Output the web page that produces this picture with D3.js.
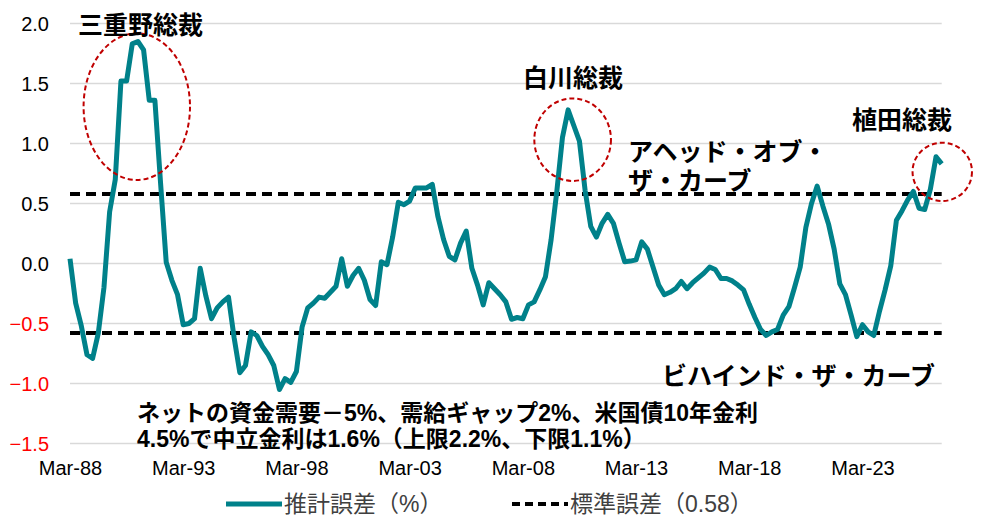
<!DOCTYPE html>
<html lang="ja">
<head>
<meta charset="utf-8">
<script src="https://cdn.jsdelivr.net/npm/d3@7"></script>
<style>
  body { margin: 0; background: #fff; }
  svg { display: block; font-family: "Liberation Sans", Arial, "Noto Sans CJK JP", sans-serif; }
</style>
</head>
<body>
<svg id="chart"></svg>
<script>
// Data (quarterly, first point Mar-88)
const tickLabels = ["Mar-88", "Mar-93", "Mar-98", "Mar-03", "Mar-08", "Mar-13", "Mar-18", "Mar-23"];
const tickEvery = 20; // quarters between labels

const estError = [
  0.04, -0.33, -0.52, -0.76, -0.79, -0.58, -0.20, 0.43, 0.70, 1.52,
  1.52, 1.83, 1.85, 1.78, 1.36, 1.36, 0.67, 0.01, -0.14, -0.26,
  -0.51, -0.50, -0.46, -0.04, -0.27, -0.46, -0.37, -0.32, -0.28, -0.62,
  -0.91, -0.85, -0.57, -0.60, -0.69, -0.76, -0.85, -1.05, -0.96, -0.99,
  -0.90, -0.53, -0.37, -0.33, -0.28, -0.29, -0.24, -0.19, 0.04, -0.19,
  -0.10, -0.04, -0.14, -0.30, -0.35, 0.015, -0.01, 0.22, 0.51, 0.49,
  0.52, 0.63, 0.63, 0.63, 0.66, 0.39, 0.20, 0.06, 0.03, 0.17,
  0.27, -0.04, -0.18, -0.345, -0.16, -0.21, -0.26, -0.32, -0.465, -0.45,
  -0.46, -0.345, -0.32, -0.22, -0.11, 0.20, 0.60, 1.05, 1.28, 1.15,
  1.02, 0.61, 0.31, 0.22, 0.335, 0.41, 0.335, 0.17, 0.015, 0.02,
  0.03, 0.18, 0.12, -0.03, -0.18, -0.26, -0.24, -0.21, -0.15, -0.21,
  -0.16, -0.12, -0.08, -0.03, -0.05, -0.125, -0.125, -0.145, -0.18, -0.22,
  -0.34, -0.45, -0.55, -0.60, -0.57, -0.55, -0.43, -0.36, -0.20, -0.03,
  0.30, 0.50, 0.645, 0.48, 0.33, 0.12, -0.17, -0.26, -0.43, -0.61,
  -0.51, -0.57, -0.60, -0.40, -0.22, -0.02, 0.36, 0.44, 0.53, 0.60,
  0.46, 0.45, 0.62, 0.89, 0.83
];
const stdError = 0.58;
const yTicks = [2.0, 1.5, 1.0, 0.5, 0.0, -0.5, -1.0, -1.5];
const seriesNames = ["推計誤差（%）", "標準誤差（0.58）"];

// Configuration
const width = 987;
const height = 523;
const plot = {left: 70, right: 941.7, top: 23.5, bottom: 443.5};
const teal = "#00818a";
const red = "#c00000";

const svg = d3.select("#chart")
    .attr("width", width)
    .attr("height", height);

svg.append("rect").attr("width", width).attr("height", height).attr("fill", "#fff");

const x = d3.scaleLinear()
    .domain([0, estError.length - 1])
    .range([plot.left, plot.right]);

const y = d3.scaleLinear()
    .domain([-1.5, 2.0])
    .range([plot.bottom, plot.top]);

// Gridlines
svg.append("g")
    .selectAll("line")
    .data(yTicks)
    .join("line")
    .attr("x1", plot.left)
    .attr("x2", plot.right)
    .attr("y1", d => y(d))
    .attr("y2", d => y(d))
    .attr("stroke", "#d9d9d9")
    .attr("stroke-width", 1.6);

// Y labels - negatives in red
const fmt = d3.format(".1f");
svg.append("g")
    .selectAll("text")
    .data(yTicks)
    .join("text")
    .attr("x", plot.left - 21)
    .attr("y", d => y(d))
    .attr("dy", "0.35em")
    .attr("text-anchor", "end")
    .attr("font-size", 20)
    .attr("font-family", "Liberation Sans, Arial, sans-serif")
    .attr("fill", d => d < 0 ? "#ff0000" : "#000000")
    .text(d => fmt(d));

// X axis
const xAxis = svg.append("g")
    .attr("transform", `translate(0,${plot.bottom})`)
    .call(d3.axisBottom(x)
        .tickValues(tickLabels.map((_, i) => i * tickEvery))
        .tickSize(0)
        .tickPadding(17)
        .tickFormat(d => tickLabels[d / tickEvery]));
xAxis.select(".domain").remove();
xAxis.selectAll("text")
    .attr("font-size", 20)
    .attr("font-family", "Liberation Sans, Arial, sans-serif")
    .style("fill", "#000");

// Standard error band (+/-)
svg.append("g")
    .selectAll("line")
    .data([stdError, -stdError])
    .join("line")
    .attr("x1", plot.left)
    .attr("x2", plot.right)
    .attr("y1", d => y(d))
    .attr("y2", d => y(d))
    .attr("stroke", "#000")
    .attr("stroke-width", 4)
    .attr("stroke-dasharray", "10,6");

// Estimate error line
const line = d3.line()
    .x((d, i) => x(i))
    .y(d => y(d));

svg.append("path")
    .datum(estError)
    .attr("d", line)
    .attr("fill", "none")
    .attr("stroke", teal)
    .attr("stroke-width", 5)
    .attr("stroke-linejoin", "round");

// Governor ellipses (center in quarter index / value units)
const ellipses = [
    {cx: 11.8, cy: 1.307, rx: 9.4, ry: 0.611},
    {cx: 88.8, cy: 1.032, rx: 6.77, ry: 0.344},
    {cx: 154.1, cy: 0.764, rx: 5.25, ry: 0.243}
];
svg.append("g")
    .selectAll("ellipse")
    .data(ellipses)
    .join("ellipse")
    .attr("cx", d => x(d.cx))
    .attr("cy", d => y(d.cy))
    .attr("rx", d => x(d.rx) - x(0))
    .attr("ry", d => y(0) - y(d.ry))
    .attr("fill", "none")
    .attr("stroke", red)
    .attr("stroke-width", 2)
    .attr("stroke-dasharray", "5,3");

// Annotations
const notes = [
    {text: "三重野総裁", x: 78, y: 25, size: 25},
    {text: "白川総裁", x: 523, y: 78, size: 25},
    {text: "植田総裁", x: 852, y: 120, size: 25},
    {text: "アヘッド・オブ・", x: 628, y: 152, size: 25},
    {text: "ザ・カーブ", x: 628, y: 181, size: 25},
    {text: "ビハインド・ザ・カーブ", x: 662, y: 376, size: 25},
    {text: "ネットの資金需要－5%、需給ギャップ2%、米国債10年金利", x: 137, y: 413, size: 23},
    {text: "4.5%で中立金利は1.6%（上限2.2%、下限1.1%）", x: 137, y: 439, size: 23}
];
svg.append("g")
    .selectAll("text")
    .data(notes)
    .join("text")
    .attr("x", d => d.x)
    .attr("y", d => d.y)
    .attr("dy", "0.36em")
    .attr("font-size", d => d.size)
    .attr("font-weight", "bold")
    .attr("fill", "#000")
    .text(d => d.text);

// Legend
const legend = svg.append("g").attr("transform", "translate(0,504)");
legend.append("line")
    .attr("x1", 226).attr("x2", 282)
    .attr("stroke", teal).attr("stroke-width", 5);
legend.append("text")
    .attr("x", 284).attr("dy", "0.36em")
    .attr("font-size", 23).attr("fill", "#404040")
    .text(seriesNames[0]);
legend.append("line")
    .attr("x1", 512).attr("x2", 568)
    .attr("stroke", "#000").attr("stroke-width", 4)
    .attr("stroke-dasharray", "8,5");
legend.append("text")
    .attr("x", 570).attr("dy", "0.36em")
    .attr("font-size", 23).attr("fill", "#404040")
    .text(seriesNames[1]);
</script>
</body>
</html>
